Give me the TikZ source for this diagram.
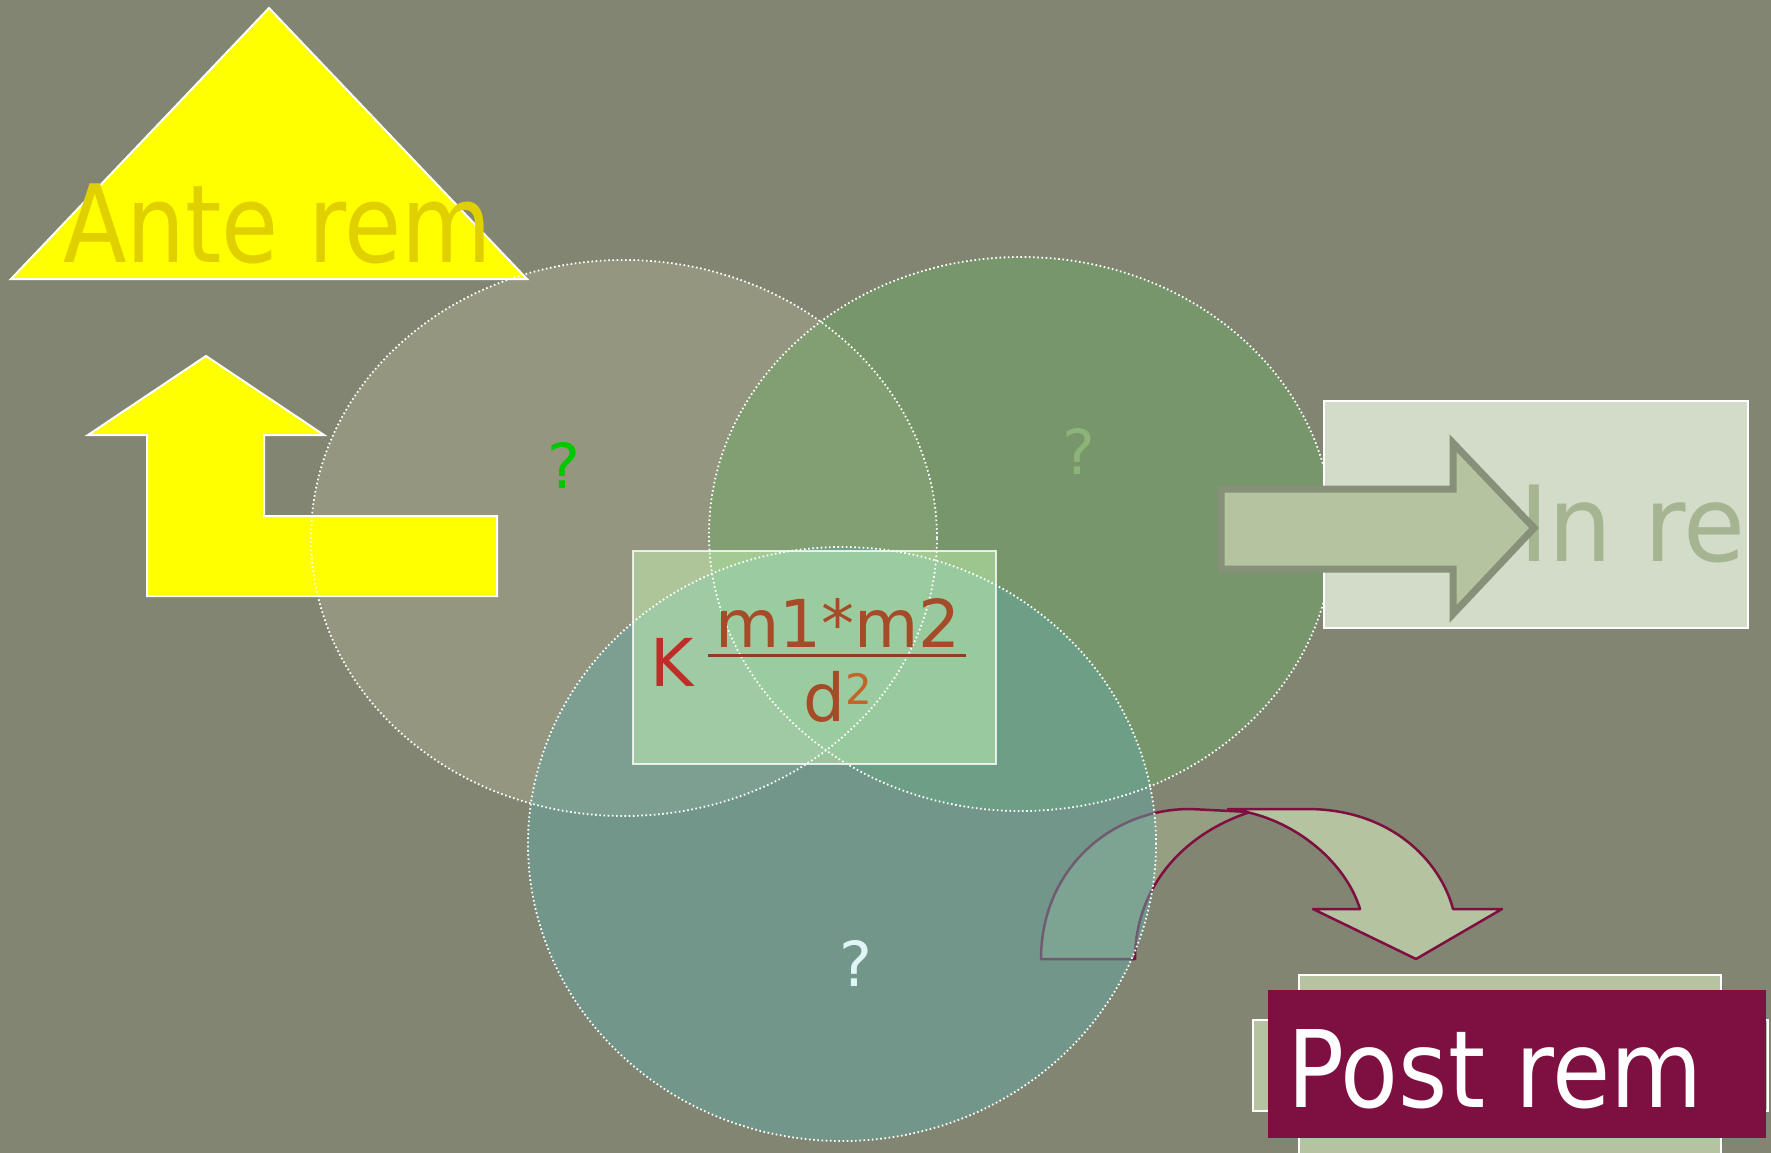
\documentclass[tikz,border=0pt]{standalone}
\usepackage{fontspec}
\setmainfont{DejaVu Sans}
\newfontfamily\fuenterotulo[FakeStretch=0.86]{DejaVu Sans}
\newfontfamily\fuentepost[FakeStretch=0.885]{DejaVu Sans}
\newfontfamily\fuenteancha[FakeStretch=0.96]{DejaVu Sans}
\usetikzlibrary{positioning}
\usepackage{xcolor}
\definecolor{fondo}{HTML}{818572}
\definecolor{amarillo}{HTML}{FFFF00}
\definecolor{ocre}{HTML}{E0D000}
\definecolor{granate}{HTML}{7D0F41}
\definecolor{salvia}{HTML}{B4C3A0}
\definecolor{salviaosc}{HTML}{979F82}
\definecolor{niebla}{HTML}{D3DCC8}
\definecolor{musgo}{HTML}{879078}
\definecolor{letrare}{HTML}{A5B491}
\definecolor{arena}{HTML}{AAA88E}
\definecolor{verdoso}{HTML}{6EA866}
\definecolor{turquesa}{HTML}{64A8A2}
\definecolor{caja}{HTML}{CDFFB9}
\definecolor{rojo}{HTML}{BE2D28}
\definecolor{teja}{HTML}{A54B28}
\definecolor{naranja}{HTML}{C36428}
\definecolor{vivo}{HTML}{00C800}
\definecolor{apagado}{HTML}{8CB478}
\definecolor{hielo}{HTML}{E0F5F5}

\begin{document}
\begin{tikzpicture}[
    x=1pt,y=-1pt,
    every node/.style={inner sep=0pt,outer sep=0pt},
    forma/.style={fill=amarillo,draw=white,line width=2pt},
    circulo/.style={fill opacity=0.5},
    borde/.style={draw=white,line width=1.8pt,dash pattern=on 1.6pt off 2.6pt},
    curva/.style={draw=granate,line width=2.5pt,line join=round},
    rotulo/.style={font=\fuenterotulo\fontsize{#1}{#1}\selectfont},
    formula/.style={font=\fontsize{66}{66}\selectfont},
    pregunta/.style={font=\fontsize{62}{62}\selectfont}
  ]
    \useasboundingbox (0,0) rectangle (1771,1153);
    \clip (0,0) rectangle (1771,1153);
    \fill[fondo] (0,0) rectangle (1771,1153);

    % flecha curva
    \filldraw[curva,fill=salviaosc] (1041,959) .. controls (1041,870) and (1110,809) .. (1190,809)
      -- (1250,812) .. controls (1180,835) and (1135,890) .. (1135,959) -- cycle;
    \filldraw[curva,fill=salvia] (1228,809) -- (1307,809) .. controls (1390,809) and (1440,860) .. (1453,909)
      -- (1502,909) -- (1416,959) -- (1313,909) -- (1360,909)
      .. controls (1345,860) and (1290,815) .. (1228,809) -- cycle;

    % circulos
    \fill[arena,circulo] (624,538) ellipse [x radius=313pt,y radius=278pt];
    \fill[verdoso,circulo] (1021,534) ellipse [x radius=312pt,y radius=277pt];
    \fill[turquesa,circulo] (842,844) ellipse [x radius=314pt,y radius=297pt];

    % ante rem
    \filldraw[forma] (269,8) -- (527,279) -- (11,279) -- cycle;
    \filldraw[forma] (206,356) -- (324,435) -- (264,435) -- (264,516) -- (497,516)
      -- (497,596) -- (147,596) -- (147,435) -- (88,435) -- cycle;
    \node[rotulo=108,text=ocre,anchor=base west] (ante) at (63,262) {Ante rem};

    % caja de la formula
    \fill[caja,fill opacity=0.45] (633,551) rectangle (996,764);

    \draw[borde] (624,538) ellipse [x radius=313pt,y radius=278pt];
    \draw[borde] (1021,534) ellipse [x radius=312pt,y radius=277pt];
    \draw[borde] (842,844) ellipse [x radius=314pt,y radius=297pt];

    \draw[white,opacity=0.8,line width=2pt] (633,551) rectangle (996,764);
    \node[formula,text=rojo,anchor=base west] (k) at (650,686) {K};
    \node[formula,text=teja,anchor=base] (num) at (838,647) {m1*m2};
    \draw[teja!85!black,line width=3pt] (708,655) -- (966,655);
    \node[formula,text=teja,anchor=base] (den) at (838,721)
      {d\raisebox{17pt}{\fontsize{42}{42}\selectfont\color{naranja}2}};

    \node[pregunta,text=vivo,anchor=base] (q1) at (564,488) {?};
    \node[pregunta,text=apagado,anchor=base] (q2) at (1079,474) {?};
    \node[pregunta,text=hielo,anchor=base] (q3) at (856,986) {?};

    % in re
    \filldraw[fill=niebla,draw=white,line width=2pt] (1324,401) rectangle (1748,628);
    \node[font=\fuenteancha\fontsize{105}{105}\selectfont,text=letrare,anchor=base west] (inre) at (1519,561) {In re};
    \filldraw[fill=salvia,draw=musgo,line width=7pt] (1221,489) -- (1453,489) -- (1453,443)
      -- (1534,528) -- (1453,614) -- (1453,569) -- (1221,569) -- cycle;

    % post rem
    \filldraw[fill=salvia,draw=white,line width=2pt] (1299,975) rectangle (1721,1165);
    \filldraw[fill=salvia,draw=white,line width=2pt] (1253,1020) rectangle (1768,1111);
    \fill[granate] (1268,990) rectangle (1766,1138);
    \node[font=\fuentepost\fontsize{107}{107}\selectfont,text=white,anchor=base west] (post) at (1287,1107) {Post rem};
\end{tikzpicture}
\end{document}
